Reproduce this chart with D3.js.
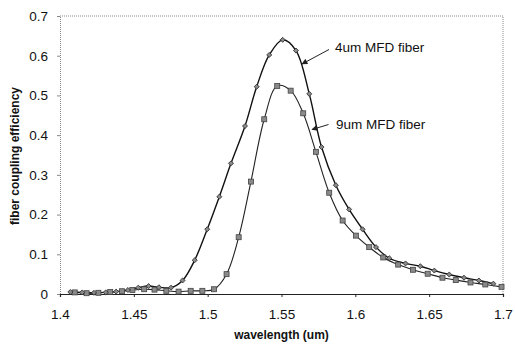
<!DOCTYPE html>
<html><head><meta charset="utf-8">
<script src="https://cdn.jsdelivr.net/npm/d3@7"></script>
<style>body{margin:0;background:#fff}svg{display:block}</style>
</head><body>
<svg id="c" width="515" height="345"></svg>
<script>
// 4um MFD fiber (diamonds)
const wl4 = [1.407,1.415,1.423,1.431,1.438,1.446,1.453,1.460,1.467,1.4752,1.483,1.4912,1.4997,1.5079,1.5158,1.5253,1.5332,1.5417,1.5508,1.5598,1.5688,1.5771,1.5868,1.5958,1.6049,1.614,1.623,1.634,1.644,1.6535,1.6636,1.6736,1.6837,1.6935];
const eff4 = [0.005,0.004,0.003,0.004,0.006,0.010,0.016,0.020,0.017,0.016,0.034,0.085,0.163,0.245,0.329,0.423,0.522,0.602,0.640,0.613,0.504,0.370,0.274,0.213,0.163,0.118,0.090,0.077,0.070,0.059,0.049,0.041,0.034,0.026];
// 9um MFD fiber (squares)
const wl9 = [1.410,1.418,1.426,1.434,1.442,1.449,1.457,1.464,1.472,1.4803,1.4885,1.4964,1.5043,1.5128,1.521,1.5293,1.5383,1.5471,1.5562,1.5647,1.5733,1.5823,1.5914,1.6004,1.6094,1.6189,1.629,1.639,1.649,1.659,1.668,1.678,1.688,1.699];
const eff9 = [0.004,0.002,0.003,0.005,0.007,0.010,0.012,0.011,0.008,0.006,0.008,0.008,0.012,0.050,0.143,0.283,0.440,0.524,0.512,0.455,0.358,0.255,0.185,0.147,0.118,0.092,0.074,0.061,0.051,0.041,0.035,0.029,0.024,0.018];
const xTicks = [1.4,1.45,1.5,1.55,1.6,1.65,1.7];
const yTicks = [0,0.1,0.2,0.3,0.4,0.5,0.6,0.7];
const seriesNames = ["4um MFD fiber","9um MFD fiber"];
const xTitle = "wavelength (um)";
const yTitle = "fiber coupling efficiency";

const W=515,H=345, m={l:60,r:12,t:16,b:51};
const svg=d3.select("#c");
const x=d3.scaleLinear().domain([1.4,1.7]).range([m.l,W-m.r]);
const y=d3.scaleLinear().domain([0,0.7]).range([H-m.b,m.t]);
const font="Liberation Sans, Arial, sans-serif";

// plot border (top/right dotted gray)
svg.append("path").attr("d",`M${x(1.4)},${y(0.7)}H${x(1.7)}V${y(0)}`)
  .attr("fill","none").attr("stroke","#888").attr("stroke-width",1).attr("stroke-dasharray","1,1");

// y axis
const ya=svg.append("g").attr("transform",`translate(${x(1.4)},0)`)
  .call(d3.axisLeft(y).tickValues(yTicks).tickSize(3).tickPadding(9).tickFormat(d=>d===0?"0":d3.format(".1f")(d)));
ya.select(".domain").attr("stroke","#888").attr("stroke-dasharray","1,1");
ya.selectAll(".tick line").attr("stroke","#888");
ya.selectAll("text").attr("font-family",font).attr("font-size",13.5).attr("fill","#111");

// x axis
const xa=svg.append("g").attr("transform",`translate(0,${y(0)})`)
  .call(d3.axisBottom(x).tickValues(xTicks).tickSize(3).tickPadding(12).tickFormat(d=>d3.format("")(d)));
xa.select(".domain").attr("stroke","#222").attr("stroke-width",1.2);
xa.selectAll(".tick line").attr("stroke","#222");
xa.selectAll("text").attr("font-family",font).attr("font-size",13.5).attr("fill","#111");

// titles
svg.append("text").attr("x",(x(1.4)+x(1.7))/2).attr("y",339).attr("text-anchor","middle")
  .attr("font-family",font).attr("font-weight","bold").attr("font-size",12).attr("fill","#111").text(xTitle);
svg.append("text").attr("transform",`translate(19,${(y(0)+y(0.7))/2+1}) rotate(-90)`).attr("text-anchor","middle")
  .attr("font-family",font).attr("font-weight","bold").attr("font-size",12).attr("fill","#111").text(yTitle);

const line=d3.line().curve(d3.curveCatmullRom.alpha(0.5)).x(d=>x(d[0])).y(d=>y(d[1]));
const d4=wl4.map((w,i)=>[w,eff4[i]]), d9=wl9.map((w,i)=>[w,eff9[i]]);

svg.append("path").datum(d9).attr("d",line).attr("fill","none").attr("stroke","#222").attr("stroke-width",1.1);
svg.append("path").datum(d4).attr("d",line).attr("fill","none").attr("stroke","#111").attr("stroke-width",1.4);

// markers
svg.append("g").selectAll("rect").data(d9).join("rect")
  .attr("x",d=>x(d[0])-2.5).attr("y",d=>y(d[1])-2.5).attr("width",5).attr("height",5)
  .attr("fill","#8a8a8a").attr("stroke","#444").attr("stroke-width",0.8);
svg.append("g").selectAll("path").data(d4).join("path")
  .attr("d",d3.symbol().type(d3.symbolDiamond2).size(16))
  .attr("transform",d=>`translate(${x(d[0])},${y(d[1])})`)
  .attr("fill","#8a8a8a").attr("stroke","#333").attr("stroke-width",0.9);

// annotations
const defs=svg.append("defs");
defs.append("marker").attr("id","ah").attr("viewBox","0 0 10 10").attr("refX",9).attr("refY",5)
  .attr("markerWidth",7).attr("markerHeight",6).attr("orient","auto").attr("markerUnits","userSpaceOnUse")
  .append("path").attr("d","M0,0L10,5L0,10z").attr("fill","#222");
const ann=[
  {t:seriesNames[0],x1:329,y1:49.5,x2:302,y2:64,tx:335,ty:52},
  {t:seriesNames[1],x1:328.5,y1:124.5,x2:312,y2:129.5,tx:336,ty:129}
];
ann.forEach(a=>{
  svg.append("line").attr("x1",a.x1).attr("y1",a.y1).attr("x2",a.x2).attr("y2",a.y2)
    .attr("stroke","#222").attr("stroke-width",1).attr("marker-end","url(#ah)");
  svg.append("text").attr("x",a.tx).attr("y",a.ty).attr("font-family",font).attr("font-size",13.5)
    .attr("fill","#111").text(a.t);
});
</script>
</body></html>
